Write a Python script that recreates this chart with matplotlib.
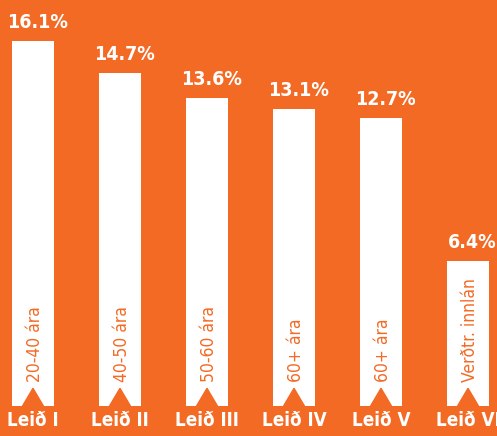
import matplotlib
matplotlib.use("Agg")
import matplotlib.pyplot as plt
from matplotlib.patches import Polygon

# data
labels = ["Leið I", "Leið II", "Leið III", "Leið IV", "Leið V", "Leið VI"]
values = [16.1, 14.7, 13.6, 13.1, 12.7, 6.4]
inner = ["20-40 ára", "40-50 ára", "50-60 ára", "60+ ára", "60+ ára", "Verðtr. innlán"]

bg = "#F36A25"
fam = ["DejaVu Sans"]

fig = plt.figure(figsize=(4.97, 4.36), dpi=100, facecolor=bg)
ax = fig.add_axes([0, 0, 1, 1])
ax.set_facecolor(bg)
ax.set_xlim(-0.379, 5.333)
ax.set_ylim(-1.323, 17.91)
ax.axis("off")

xs = range(len(values))
ax.bar(xs, values, width=0.483, color="white", zorder=2)

for x, v, t in zip(xs, values, inner):
    # notch at the bottom of each bar
    ax.add_patch(Polygon([(x - 0.12, 0), (x, 0.78), (x + 0.12, 0)],
                         closed=True, color=bg, zorder=3))
    ax.text(x + 0.05, v + 0.4, f"{v}%", ha="center", va="bottom", color="white",
            fontsize=14, fontweight="bold", family=fam, fontstretch="condensed")
    ax.text(x + 0.02, 1.05, t, rotation=90, ha="center", va="bottom", color=bg,
            fontsize=12.5, family=fam, fontstretch="condensed", zorder=4)

for x, l in zip(xs, labels):
    ax.text(x, -0.62, l, ha="center", va="center", color="white",
            fontsize=13.5, fontweight="bold", family=fam, fontstretch="condensed",
            clip_on=False)

fig.savefig("out.png", dpi=100, facecolor=bg)
